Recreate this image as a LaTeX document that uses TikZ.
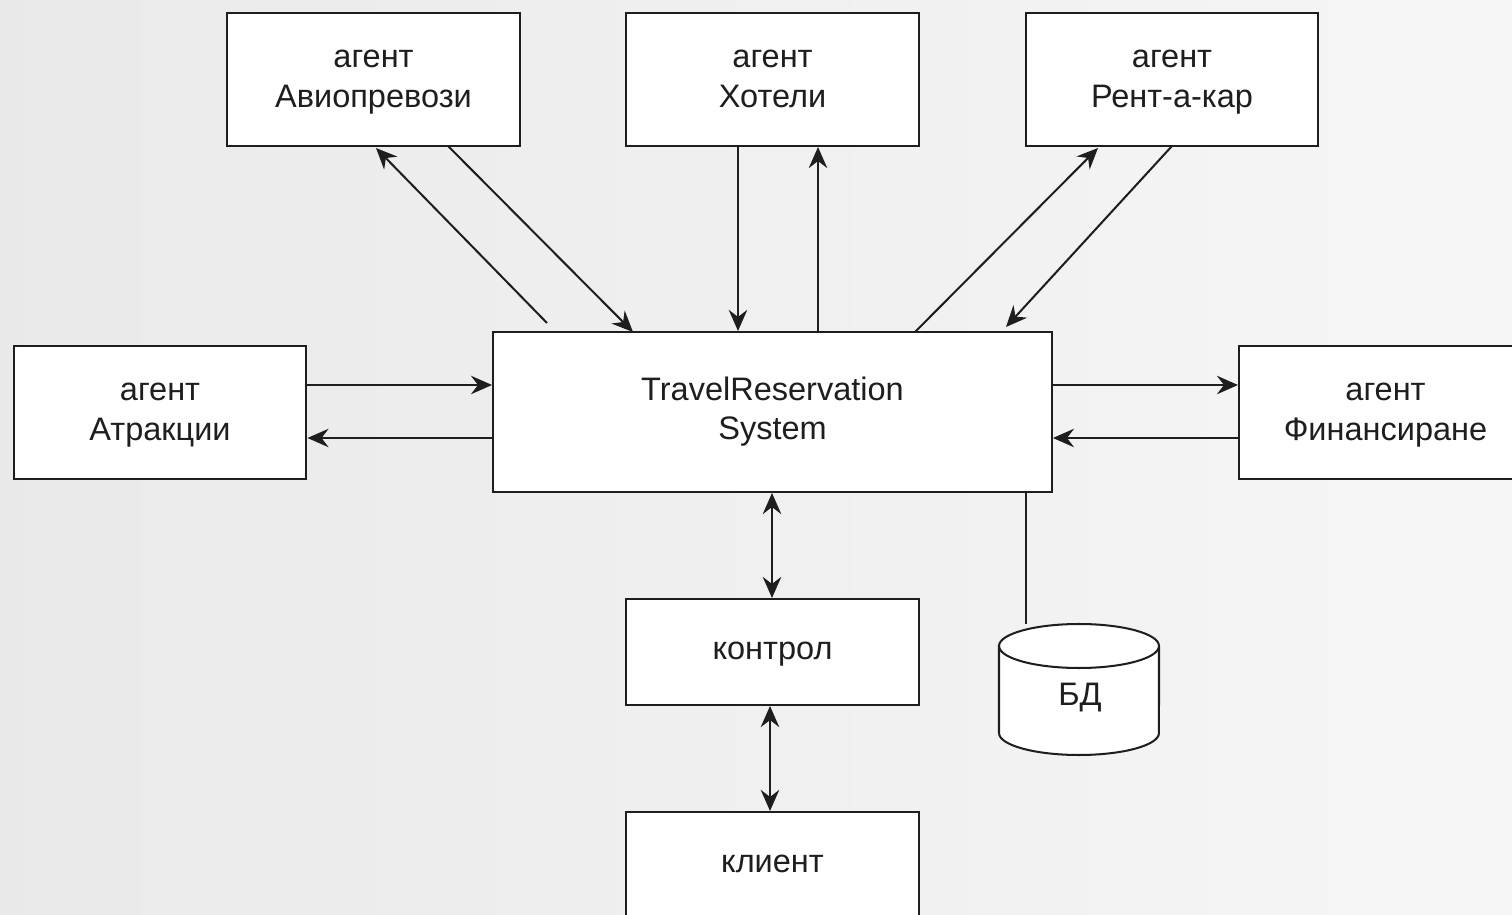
\documentclass[tikz,border=0pt]{standalone}
\usepackage{fontspec}
\setmainfont{Liberation Sans}
\usetikzlibrary{arrows.meta}
\definecolor{ink}{HTML}{1E1E1E}
\newcommand{\txtline}[1]{#1\strut}
\tikzset{
  tip/.tip={Stealth[length=12pt,width=10.5pt,inset=4pt]},
  agentbox/.style={draw=ink, line width=1.15pt, fill=white, align=center,
    minimum width=5.86cm, minimum height=2.66cm, inner sep=0pt,
    font=\fontsize{18.5}{22.7}\selectfont, text=ink},
  flow/.style={draw=ink, line width=1.15pt, -tip},
  biflow/.style={draw=ink, line width=1.15pt, tip-tip},
  plain/.style={draw=ink, line width=1.15pt}
}
\begin{document}
\begin{tikzpicture}[x=0.02cm,y=-0.02cm]
  % page frame and soft grey backdrop
  \useasboundingbox (0,0) rectangle (1512,915);
  \clip (0,0) rectangle (1512,915);
  \shade[left color=gray!17, right color=gray!7] (0,0) rectangle (1512,915);

  % agents around the central system
  \node[agentbox] (air)  at (373.5,79.5) {\txtline{агент}\\\txtline{Авиопревози}};
  \node[agentbox] (hot)  at (772.5,79.5) {\txtline{агент}\\\txtline{Хотели}};
  \node[agentbox] (car)  at (1172,79.5)  {\txtline{агент}\\\txtline{Рент-а-кар}};
  \node[agentbox] (attr) at (160,412.5)  {\txtline{агент}\\\txtline{Атракции}};
  \node[agentbox] (fin)  at (1385.5,412.5) {\txtline{агент}\\\txtline{Финансиране}};
  \node[agentbox, minimum width=11.18cm, minimum height=3.2cm]
       (trs) at (772.5,412) {\txtline{TravelReservation}\\\txtline{System}};
  \node[agentbox, minimum height=2.12cm] (ctl) at (772.5,652) {\txtline{контрол}};
  \node[agentbox, minimum height=2.12cm] (cli) at (772.5,865) {\raisebox{0.2cm}{\txtline{клиент}}};

  % database cylinder
  \coordinate (dbtop) at (1026,624);
  \filldraw[draw=ink, fill=white, line width=1.15pt]
    (999,646) -- (999,733)
    arc[start angle=180, end angle=360, x radius=1.6cm, y radius=0.44cm]
    -- (1159,646)
    arc[start angle=0, end angle=180, x radius=1.6cm, y radius=0.44cm] -- cycle;
  \draw[plain] (999,646)
    arc[start angle=180, end angle=360, x radius=1.6cm, y radius=0.44cm];
  \node[text=ink, font=\fontsize{18.5}{22.7}\selectfont] (db) at (1080,698) {БД};

  % connectors
  \draw[flow] (547,323) -- (376,148);
  \draw[flow] (448,146) -- (633,332);
  \draw[flow] (hot.south -| 738,0) -- (trs.north -| 738,0);
  \draw[flow] (trs.north -| 818,0) -- (hot.south -| 818,0);
  \draw[flow] (915,332) -- (1098,148);
  \draw[flow] (1172,146) -- (1006,327);
  \draw[flow] (attr.east |- 0,385) -- (trs.west |- 0,385);
  \draw[flow] (trs.west |- 0,438) -- (attr.east |- 0,438);
  \draw[flow] (trs.east |- 0,385) -- (fin.west |- 0,385);
  \draw[flow] (fin.west |- 0,438) -- (trs.east |- 0,438);
  \draw[biflow] (trs.south -| 772,0) -- (ctl.north -| 772,0);
  \draw[biflow] (ctl.south -| 770,0) -- (cli.north -| 770,0);
  \draw[plain] (trs.south -| dbtop) -- (dbtop);
\end{tikzpicture}
\end{document}
